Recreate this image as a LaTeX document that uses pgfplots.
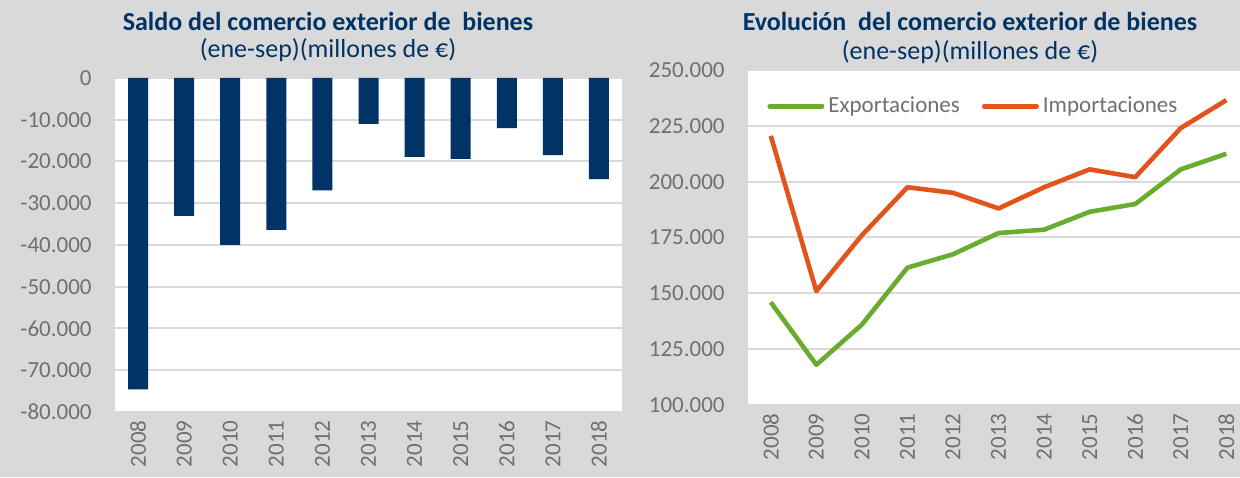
\documentclass[border=0pt]{standalone}
\usepackage{fontspec}
\setmainfont{Carlito}
\usepackage{pgfplots}
\pgfplotsset{compat=1.18}
\definecolor{bg}{RGB}{217,217,217}
\definecolor{navy}{RGB}{0,51,102}
\definecolor{tickgray}{RGB}{112,112,112}
\definecolor{gridgray}{RGB}{217,217,217}
\definecolor{expgreen}{RGB}{106,172,46}
\definecolor{imporange}{RGB}{226,84,28}
\pgfplotsset{
  common/.style={
    scale only axis,
    xmin=-0.5,
    scaled y ticks=false,
    axis background/.style={fill=white},
    axis line style={draw=none},
    major tick length=0pt,
    ymajorgrids,
    grid style={gridgray, line width=1pt},
    xtick={0,...,10},
    xticklabels={2008,2009,2010,2011,2012,2013,2014,2015,2016,2017,2018},
    tick label style={font=\fontsize{11.5}{12}\selectfont, text=tickgray},
    xticklabel style={rotate=90, anchor=east, inner sep=0pt},
    xticklabel shift=4pt,
    yticklabel style={anchor=east, inner sep=0pt},
    yticklabel shift=11.5pt,
  }
}
\begin{document}
\begin{tikzpicture}
\fill[bg] (0,0) rectangle (620pt,238.5pt);
\useasboundingbox (0,0) rectangle (620pt,238.5pt);

% Titles
\node[anchor=base, text=navy, font=\fontsize{13}{15}\selectfont\bfseries] at (164pt,223.2pt) {Saldo del comercio exterior de\ \ bienes};
\node[anchor=base, text=navy, font=\fontsize{13}{15}\selectfont] at (164pt,209.5pt) {(ene-sep)(millones de €)};
\node[anchor=base, text=navy, font=\fontsize{13}{15}\selectfont\bfseries] at (485pt,223.2pt) {Evolución\ \ del comercio exterior de bienes};
\node[anchor=base, text=navy, font=\fontsize{13}{15}\selectfont] at (485pt,208.5pt) {(ene-sep)(millones de €)};

\begin{axis}[common,
  at={(57.5pt,199.5pt)}, anchor=north west,
  width=253.5pt, height=167pt,
  xmax=10.5, ymin=-80000, ymax=0,
  ytick={-80000,-70000,-60000,-50000,-40000,-30000,-20000,-10000,0},
  yticklabels={-80.000,-70.000,-60.000,-50.000,-40.000,-30.000,-20.000,-10.000,0},
  ybar, bar width=10pt,
]
\addplot[fill=navy, draw=none] coordinates {
(0,-74600) (1,-33000) (2,-40000) (3,-36400) (4,-26900) (5,-11000)
(6,-18900) (7,-19400) (8,-12000) (9,-18500) (10,-24200)};
\end{axis}

\begin{axis}[common,
  at={(374pt,203.5pt)}, anchor=north west,
  width=246pt, height=167.5pt,
  xmax=10.3, ymin=100000, ymax=250000,
  ytick={100000,125000,150000,175000,200000,225000,250000},
  yticklabels={100.000,125.000,150.000,175.000,200.000,225.000,250.000},
  legend columns=2,
  legend style={at={(0.0386,0.8925)}, anchor=west, draw=none, fill=none,
    inner sep=0pt, font=\fontsize{11.5}{12}\selectfont, text=tickgray,
    /tikz/every even column/.append style={column sep=9pt}},
  legend image code/.code={\draw[#1, line width=2.5pt, line cap=round] (0pt,0pt) -- (26pt,0pt);},
]
\addplot[expgreen, line width=2.3pt, line join=round] coordinates {
(0,146000) (1,118000) (2,136000) (3,161500) (4,167500) (5,177000)
(6,178500) (7,186500) (8,190000) (9,205500) (10,212500)};
\addlegendentry{Exportaciones}
\addplot[imporange, line width=2.3pt, line join=round] coordinates {
(0,220500) (1,151000) (2,176000) (3,197500) (4,195000) (5,188000)
(6,197500) (7,205500) (8,202000) (9,224000) (10,236500)};
\addlegendentry{Importaciones}
\end{axis}
\end{tikzpicture}
\end{document}
